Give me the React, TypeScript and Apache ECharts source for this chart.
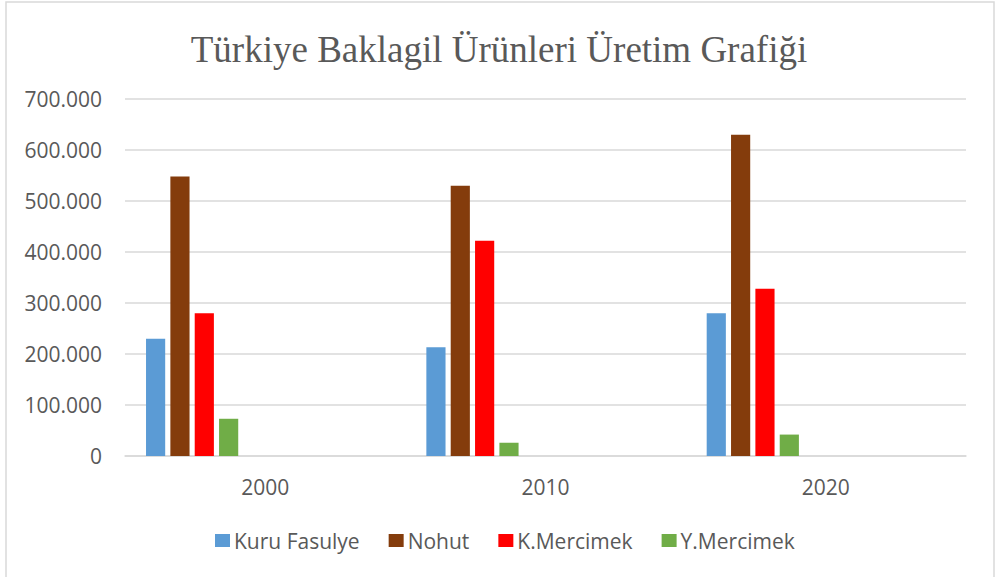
import React, { useEffect, useRef } from "react";
import * as echarts from "echarts";

const categories = ["2000", "2010", "2020"];
const kuruFasulye = [230000, 213000, 280000];
const nohut = [548000, 530000, 630000];
const kMercimek = [280000, 422000, 328000];
const yMercimek = [73000, 26000, 42000];
const seriesNames = ["Kuru Fasulye", "Nohut", "K.Mercimek", "Y.Mercimek"];
const yTicks = [0, 100000, 200000, 300000, 400000, 500000, 600000, 700000];
const emptySeriesCount = 6;

const colors = ["#5B9BD5", "#843C0C", "#FF0000", "#70AD47"];
const textColor = "#595959";
const gridColor = "#D9D9D9";
const sans = "'Open Sans', 'Noto Sans', sans-serif";

function fmt(v: number): string {
  if (v === 0) return "0";
  const s = String(Math.round(v));
  return s.replace(/\B(?=(\d{3})+(?!\d))/g, ".");
}

export default function App() {
  const ref = useRef<HTMLDivElement>(null);
  useEffect(() => {
    if (!ref.current) return;
    const chart = echarts.init(ref.current, undefined, { renderer: "svg" });
    const values = [kuruFasulye, nohut, kMercimek, yMercimek];
    const series: any[] = values.map((d, i) => ({
      name: seriesNames[i],
      type: "bar",
      data: d,
      itemStyle: { color: colors[i] },
      barGap: "27%",
      barCategoryGap: "15%",
    }));
    for (let i = 0; i < emptySeriesCount; i++) {
      series.push({
        name: "empty" + i,
        type: "bar",
        data: categories.map(() => null),
        barGap: "27%",
        barCategoryGap: "15%",
      });
    }
    chart.setOption({
      animation: false,
      backgroundColor: "#ffffff",
      title: {
        text: "Türkiye Baklagil Ürünleri Üretim Grafiği",
        left: "center",
        top: 26,
        textStyle: {
          fontFamily: "'Liberation Serif', 'Times New Roman', serif",
          fontSize: 37,
          fontWeight: "normal",
          color: textColor,
        },
      },
      graphic: [
        {
          type: "rect",
          shape: { x: 6, y: 2, width: 988, height: 590 },
          style: { fill: "none", stroke: gridColor, lineWidth: 1.5 },
          silent: true,
        },
      ],
      legend: {
        data: seriesNames,
        left: 215,
        top: 530,
        padding: 0,
        icon: "rect",
        itemWidth: 15,
        itemHeight: 13,
        itemGap: 29,
        textStyle: { fontFamily: sans, fontSize: 21, color: textColor, padding: [0, 0, 0, -1] },
      },
      grid: { left: 125, right: 32, top: 99, bottom: 121, containLabel: false },
      xAxis: {
        type: "category",
        data: categories,
        axisLine: { lineStyle: { color: gridColor, width: 1.5 } },
        axisTick: { show: false },
        axisLabel: { fontFamily: sans, fontSize: 21, color: textColor, margin: 20 },
      },
      yAxis: {
        type: "value",
        min: yTicks[0],
        max: yTicks[yTicks.length - 1],
        interval: yTicks[1] - yTicks[0],
        axisLine: { show: false },
        axisTick: { show: false },
        splitLine: { lineStyle: { color: gridColor, width: 1.5 } },
        axisLabel: {
          fontFamily: sans,
          fontSize: 21,
          color: textColor,
          margin: 23,
          formatter: (v: number) => fmt(v),
        },
      },
      series,
    });
    return () => chart.dispose();
  }, []);
  return (
    <div
      ref={ref}
      style={{ position: "fixed", left: 0, top: 0, width: 998, height: 577, background: "#fff" }}
    />
  );
}
